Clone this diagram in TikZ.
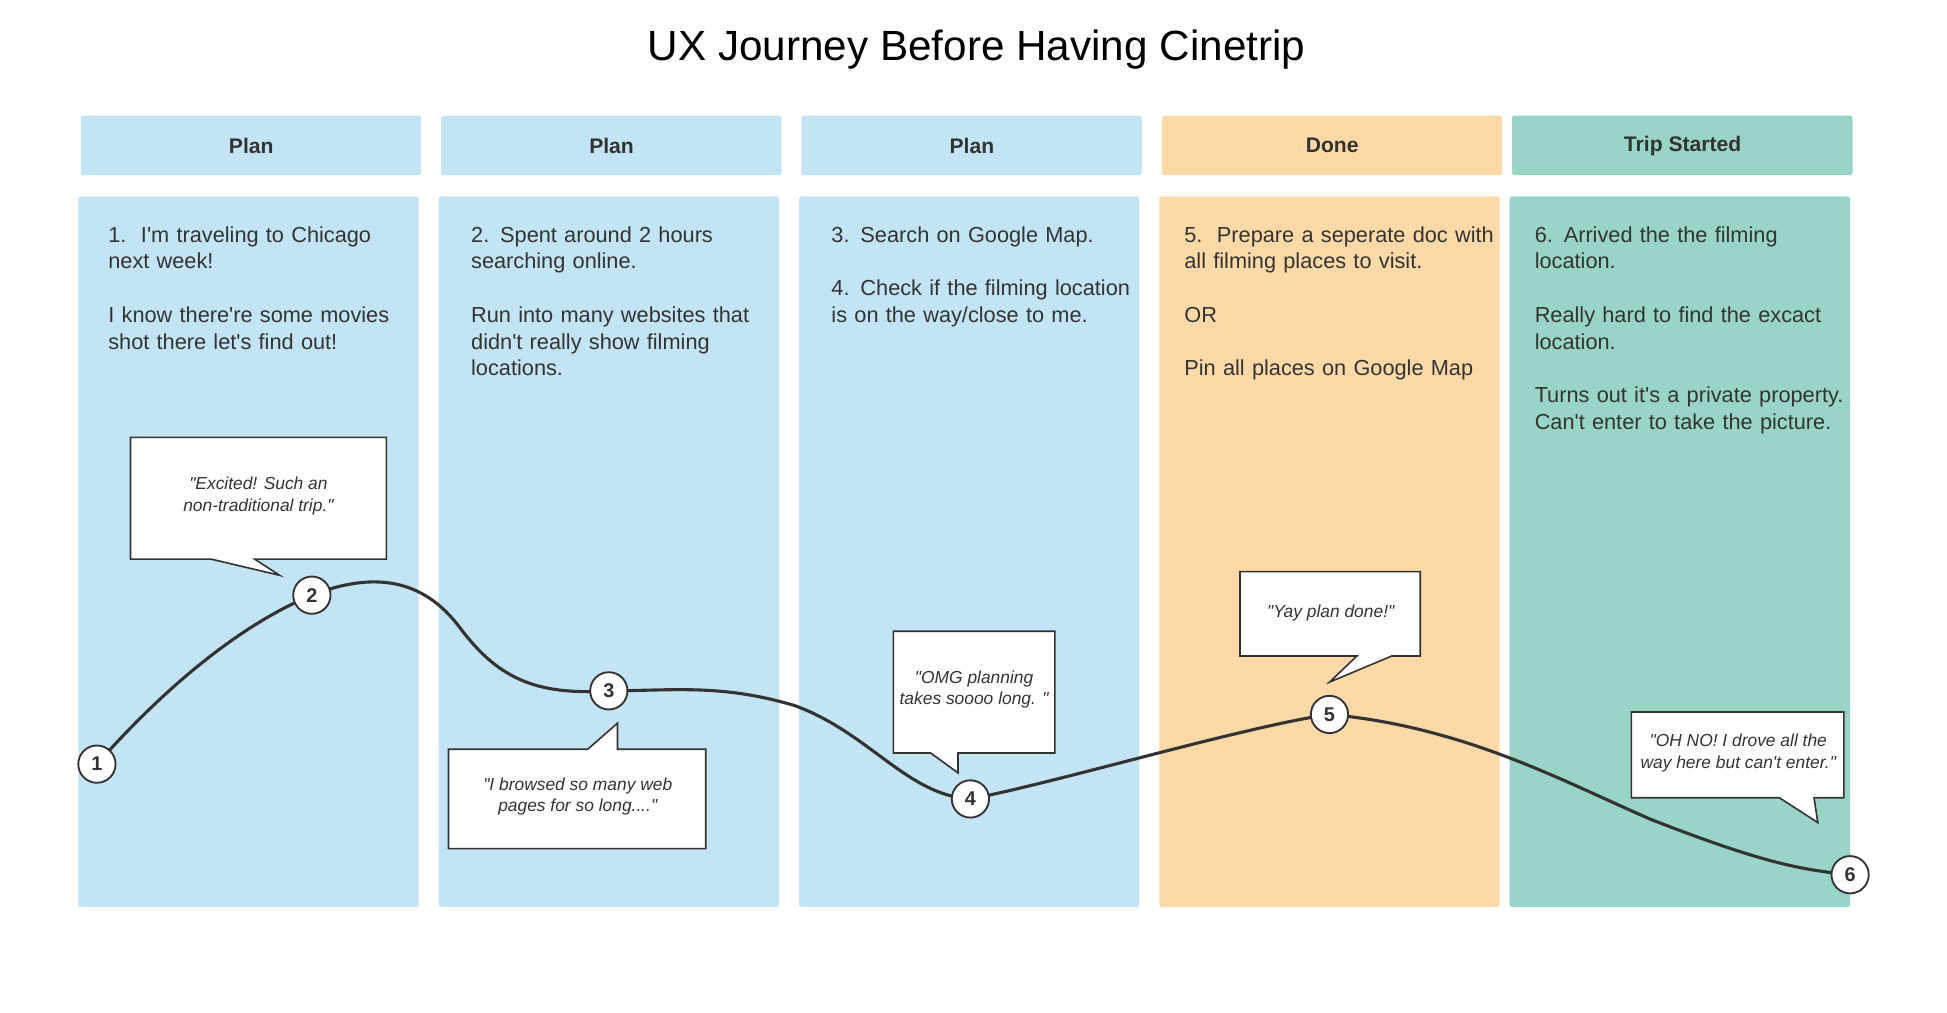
\documentclass[tikz,border=0pt]{standalone}
\usepackage{fontspec}
\setmainfont{Liberation Sans}[Ligatures=TeXOff]
\hyphenpenalty=10000
\exhyphenpenalty=10000
\definecolor{planblue}{HTML}{C3E4F5}
\definecolor{doneorange}{HTML}{FDD9A8}
\definecolor{tripteal}{HTML}{98D5C8}
\definecolor{inkgray}{HTML}{333333}
\tikzset{
  header/.style={anchor=north west, minimum height=48pt, inner sep=0pt, font=\fontsize{17}{20}\selectfont\bfseries, text=inkgray},
  stepbox/.style={anchor=north west, inner sep=0pt, align=left, font=\fontsize{17.5}{21.5}\selectfont, text=inkgray},
  bubble/.style={draw=inkgray, fill=white, line width=1.3pt},
  quote/.style={font=\fontsize{14}{17.5}\selectfont\itshape, align=center, text=inkgray},
  stepdot/.style={circle, draw=inkgray, fill=white, line width=1.5pt, minimum size=30pt, inner sep=0pt, font=\fontsize{16}{16}\selectfont\bfseries, text=inkgray}
}
\begin{document}
\begin{tikzpicture}[x=1pt,y=-1pt]
  \useasboundingbox (0,0) rectangle (1567,815);
  % Title
  \node (title) at (786,40) {\fontsize{34}{40}\selectfont UX Journey Before Having Cinetrip};

  % Columns
  \foreach \x/\w/\col/\lab in {65/274/planblue/Plan, 355/274/planblue/Plan, 645/274/planblue/Plan, 935/274/doneorange/Done, 1217/274/tripteal/Trip Started} {
    \fill[\col, rounded corners=2pt] (\x,93) rectangle ++(\w,48);
    \node[header] at (\x,93) [minimum width=\w pt] {\lab};
    \fill[\col, rounded corners=2pt] (\x-2,158) rectangle ++(\w,572);
  }

  % Step texts
  \node[stepbox, text width=235pt] (t1) at (87,182) {1.\ \ I'm traveling to Chicago next week!\\[21.5pt]I know there're some movies shot there let's find out!};
  \node[stepbox, text width=240pt] (t2) at (379,182) {2. Spent around 2 hours searching online.\\[21.5pt]Run into many websites that didn't really show filming locations.};
  \node[stepbox, text width=245pt] (t3) at (669,182) {3. Search on Google Map.\\[21.5pt]4. Check if the filming location is on the way/close to me.};
  \node[stepbox, text width=255pt] (t4) at (953,182) {5.\ \ Prepare a seperate doc with all filming places to visit.\\[21.5pt]OR\\[21.5pt]Pin all places on Google Map};
  \node[stepbox, text width=255pt] (t5) at (1235,182) {6. Arrived the the filming location.\\[21.5pt]Really hard to find the excact location.\\[21.5pt]Turns out it's a private property. Can't enter to take the picture.};

  % Speech bubbles
  \draw[bubble] (105,352) -- (311,352) -- (311,450) -- (205,450) -- (225,463) -- (170,450) -- (105,450) -- cycle;
  \node[quote] (q1) at (208,399) {"Excited! Such an\\non-traditional trip."};
  \draw[bubble] (361,603) -- (473,603) -- (497,582) -- (497,603) -- (568,603) -- (568,683) -- (361,683) -- cycle;
  \node[quote] (q2) at (465,641) {"I browsed so many web\\pages for so long...."};
  \draw[bubble] (719,508) -- (849,508) -- (849,606) -- (771,606) -- (771,622) -- (749,606) -- (719,606) -- cycle;
  \node[quote] (q3) at (784,555) {"OMG planning\\takes soooo long. "};
  \draw[bubble] (998,460) -- (1143,460) -- (1143,528) -- (1120,528) -- (1070,549) -- (1092,528) -- (998,528) -- cycle;
  \node[quote] (q4) at (1071,493) {"Yay plan done!"};
  \draw[bubble] (1313,573) -- (1484,573) -- (1484,642) -- (1460,642) -- (1463,662) -- (1432,642) -- (1313,642) -- cycle;
  \node[quote] (q5) at (1399,606) {"OH NO! I drove all the\\way here but can't enter."};

  % Journey curve
  \coordinate (p1) at (78,615);
  \coordinate (p2) at (251,479);
  \coordinate (p3) at (490,556);
  \coordinate (p4) at (781,643);
  \coordinate (p5) at (1070,575);
  \coordinate (p6) at (1489,704);
  \draw[inkgray, line width=2.5pt, line cap=round]
    (p1) .. controls (140,545) and (200,500) .. (p2)
    .. controls (300,460) and (340,465) .. (370,505)
    .. controls (400,545) and (430,560) .. (p3)
    .. controls (540,556) and (580,550) .. (640,568)
    .. controls (700,590) and (730,640) .. (p4)
    .. controls (850,630) and (1000,585) .. (p5)
    .. controls (1180,585) and (1260,630) .. (1330,660)
    .. controls (1420,695) and (1450,700) .. (p6);

  % Steps
  \foreach \i in {1,...,6} {
    \node[stepdot] (s\i) at (p\i) {\i};
  }
\end{tikzpicture}
\end{document}
